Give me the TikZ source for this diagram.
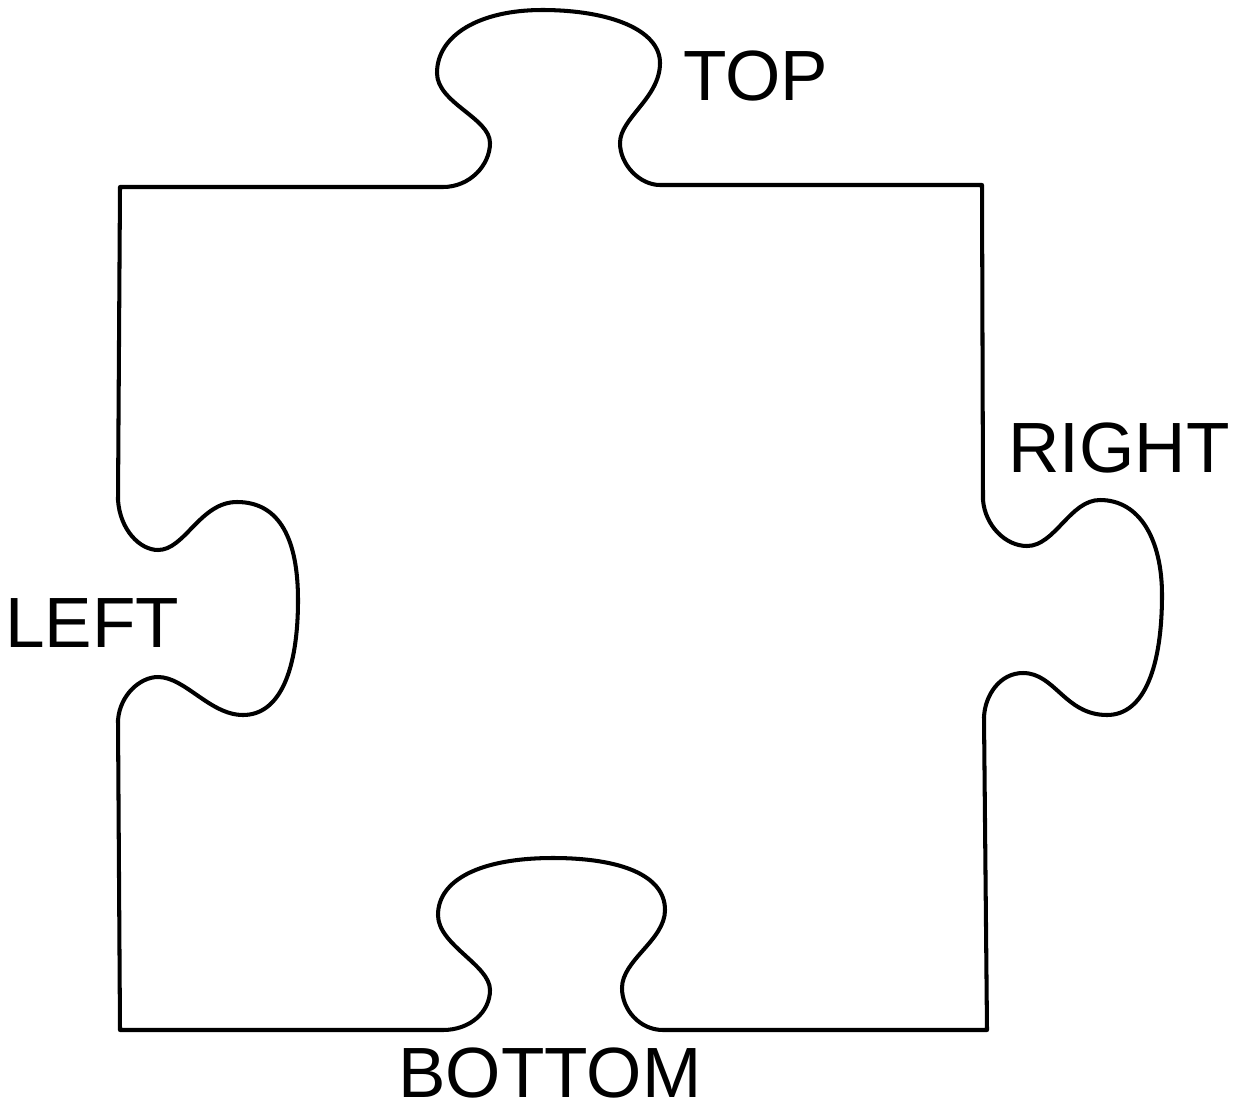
\documentclass[tikz,border=0pt]{standalone}
\usepackage{fontspec}
\setmainfont{Liberation Sans}
\begin{document}
\begin{tikzpicture}[x=0.02cm,y=-0.02cm,
  piece/.style={line width=2.3pt,line join=round,black},
  lbl/.style={inner sep=0pt,anchor=base west,text depth=0pt,font=\fontsize{40.5}{40.5}\selectfont}]
\useasboundingbox (0,0) rectangle (1241,1109);
\draw[piece] (120,187) -- (443,187)
 .. controls (470,187) and (490,165) .. (490,143)
 .. controls (490,118) and (437,103) .. (437,73)
 .. controls (437,35) and (480,10) .. (542,10)
 .. controls (610,10) and (660,30) .. (660,63)
 .. controls (660,98) and (620,118) .. (620,143)
 .. controls (620,165) and (640,185) .. (660,185)
 -- (982,185) -- (983,500)
 .. controls (985,525) and (1005,546) .. (1027,546)
 .. controls (1055,546) and (1070,500) .. (1100,500)
 .. controls (1140,500) and (1162,540) .. (1162,595)
 .. controls (1162,665) and (1145,715) .. (1107,715)
 .. controls (1065,715) and (1055,673) .. (1023,673)
 .. controls (1000,673) and (985,695) .. (984,717)
 -- (987,1030) -- (663,1030)
 .. controls (640,1030) and (622,1010) .. (622,988)
 .. controls (622,960) and (665,940) .. (665,910)
 .. controls (665,875) and (620,858) .. (553,858)
 .. controls (480,858) and (438,880) .. (438,915)
 .. controls (438,945) and (490,965) .. (490,990)
 .. controls (490,1012) and (470,1030) .. (443,1030)
 -- (120,1030) -- (118,720)
 .. controls (120,695) and (140,677) .. (158,677)
 .. controls (185,677) and (210,715) .. (243,715)
 .. controls (280,715) and (298,670) .. (298,600)
 .. controls (298,540) and (280,502) .. (237,502)
 .. controls (200,502) and (185,550) .. (158,550)
 .. controls (140,550) and (120,530) .. (118,500)
 -- cycle;
\node[lbl] (top) at (683,100) {TOP};
\node[lbl] (right) at (1008,472) {RIGHT};
\node[lbl] (left) at (5,647) {LEFT};
\node[lbl] (bottom) at (398,1097) {BOTTOM};
\end{tikzpicture}
\end{document}
